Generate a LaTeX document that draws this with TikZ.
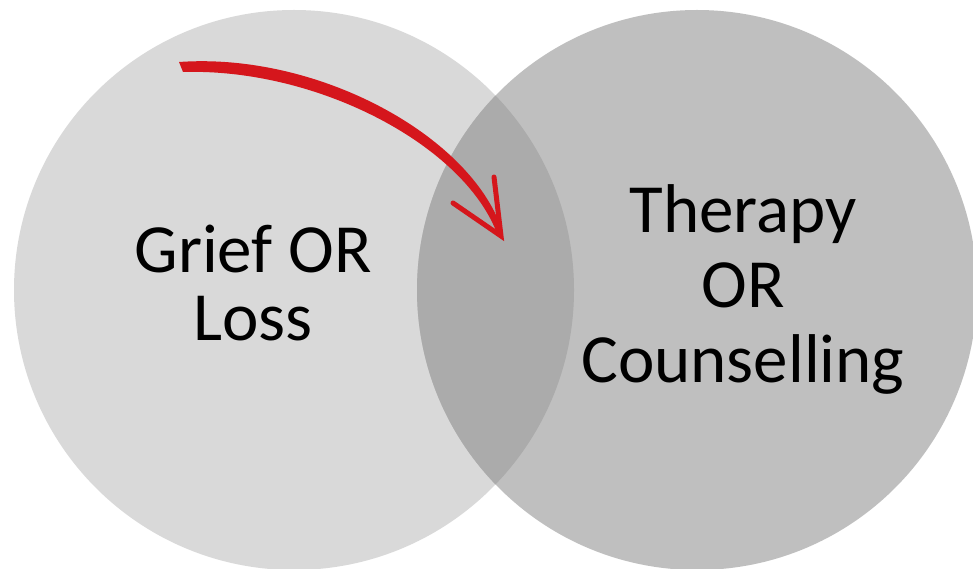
\documentclass[tikz,border=0pt]{standalone}
\usepackage{fontspec}
\setmainfont{Carlito}
\begin{document}
\begin{tikzpicture}[x=1pt,y=-1pt,
  venn/.style={circle, minimum size=560pt, inner sep=0pt, draw=none},
  label/.style={align=center, text=black, inner sep=0pt},
  redbrush/.style={fill=arrowred, draw=none},
  redwing/.style={draw=arrowred, line width=5pt, line cap=round}]
\definecolor{arrowred}{HTML}{D5161C}
\definecolor{leftgray}{HTML}{D9D9D9}
\definecolor{rightgray}{HTML}{BFBFBF}
\definecolor{overlapgray}{HTML}{ABABAB}
\clip (0,0) rectangle (973,569);
\fill[white] (0,0) rectangle (973,569);
\node[venn, fill=leftgray] (left) at (294,290) {};
\node[venn, fill=rightgray] (right) at (697,290) {};
\begin{scope}
  \clip (294,290) circle (280);
  \fill[overlapgray] (697,290) circle (280);
\end{scope}
\node[label, font=\fontsize{69}{68}\selectfont] (grief) at (253,283) {Grief OR\\Loss};
\node[label, font=\fontsize{69}{75}\selectfont] (therapy) at (743,289) {Therapy\\OR\\Counselling};
\coordinate (start) at (181,66);
\coordinate (tip) at (501,236);
\coordinate (wingA) at (453,203);
\coordinate (wingB) at (494,177);
\fill[redbrush] (179,62) .. controls (320,52) and (474,138) .. (503,233)
  -- (498,236) .. controls (466,146) and (318,68) .. (183,72) -- cycle;
\draw[redwing] (wingA) -- (tip) -- (wingB);
\end{tikzpicture}
\end{document}
